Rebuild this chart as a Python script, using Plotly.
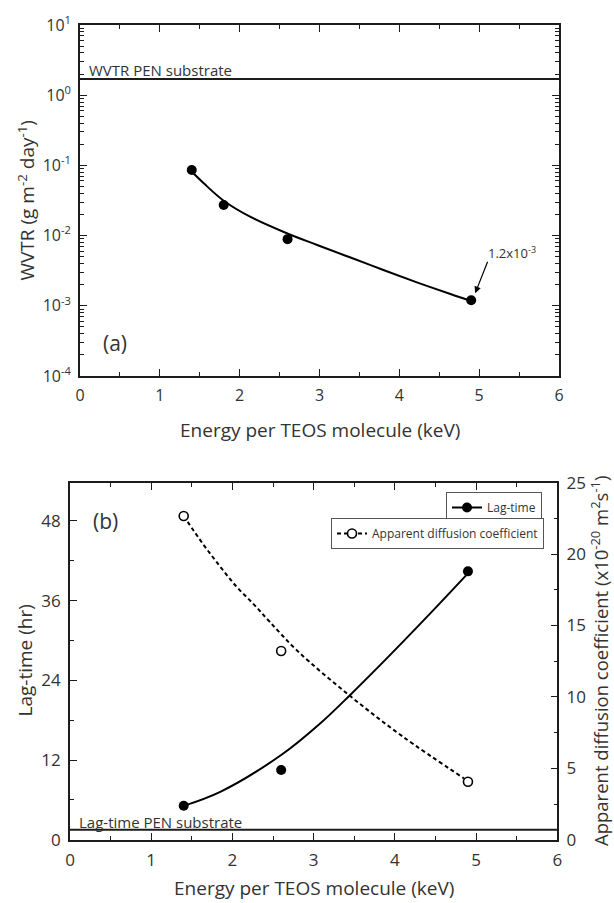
import math
import plotly.graph_objects as go

# ---- Panel (a): WVTR vs energy per TEOS molecule ----
energy_a = [1.4, 1.8, 2.6, 4.9]
wvtr = [0.086, 0.0273, 0.0089, 0.0012]
fit_energy_a = [1.42, 1.55, 1.8, 2.13, 2.59, 2.97, 3.38, 3.8, 4.22, 4.64, 4.89]
fit_wvtr = [0.0771, 0.0556, 0.0314, 0.0186, 0.0108, 0.00735, 0.00491,
            0.00324, 0.00216, 0.00147, 0.00118]
wvtr_pen = 1.7
x_span = [0, 6]
wvtr_label_value = 0.0012

# ---- Panel (b): lag-time and apparent diffusion coefficient ----
energy_b = [1.4, 2.6, 4.9]
lag_time = [5.1, 10.5, 40.4]
diff_coef = [22.67, 13.21, 4.06]
fit_energy_lag = [1.4, 1.85, 2.6, 3.08, 3.45, 3.9, 4.43, 4.9]
fit_lag = [5.1, 7.2, 12.75, 17.5, 21.8, 27.3, 34.0, 40.1]
fit_energy_diff = [1.4, 1.64, 1.85, 2.05, 2.26, 2.46, 2.81, 3.45, 4.1, 4.85]
fit_diff = [22.67, 20.69, 19.12, 17.72, 16.5, 15.25, 13.17, 10.06, 7.21, 4.3]
lag_pen = 1.5

decades = [1e-4, 1e-3, 1e-2, 1e-1, 1e0, 1e1]
decade_text = ["10<sup>-4</sup>", "10<sup>-3</sup>", "10<sup>-2</sup>",
               "10<sup>-1</sup>", "10<sup>0</sup>", "10<sup>1</sup>"]
lag_ticks = [0, 12, 24, 36, 48]
diff_ticks = [0, 5, 10, 15, 20, 25]

W, H = 614, 903
INK = "#1c1c1c"
TXT = "#333333"
FONT = "Open Sans"


def px_x(v):
    return v / W


def px_y(v):
    return 1 - v / H


fig = go.Figure()

# panel (a)
fig.add_trace(go.Scatter(x=x_span, y=[wvtr_pen, wvtr_pen], mode="lines",
                         line=dict(color=INK, width=2), showlegend=False,
                         xaxis="x", yaxis="y"))
fig.add_trace(go.Scatter(x=fit_energy_a, y=fit_wvtr, mode="lines",
                         line=dict(color="black", width=2, shape="spline"),
                         showlegend=False, xaxis="x", yaxis="y"))
fig.add_trace(go.Scatter(x=energy_a, y=wvtr, mode="markers",
                         marker=dict(color="black", size=10, symbol="circle"),
                         showlegend=False, xaxis="x", yaxis="y"))

# panel (b)
fig.add_trace(go.Scatter(x=x_span, y=[lag_pen, lag_pen], mode="lines",
                         line=dict(color=INK, width=2), showlegend=False,
                         xaxis="x2", yaxis="y2"))
fig.add_trace(go.Scatter(x=fit_energy_lag, y=fit_lag, mode="lines",
                         line=dict(color="black", width=2, shape="spline"),
                         showlegend=False, xaxis="x2", yaxis="y2"))
fig.add_trace(go.Scatter(x=energy_b, y=lag_time, mode="markers",
                         marker=dict(color="black", size=10, symbol="circle"),
                         showlegend=False, xaxis="x2", yaxis="y2"))
fig.add_trace(go.Scatter(x=fit_energy_diff, y=fit_diff, mode="lines",
                         line=dict(color="black", width=2, shape="spline",
                                   dash="4px,3px"),
                         showlegend=False, xaxis="x2", yaxis="y3"))
fig.add_trace(go.Scatter(x=energy_b, y=diff_coef, mode="markers",
                         marker=dict(color="white", size=9, symbol="circle",
                                     line=dict(color="black", width=1.6)),
                         showlegend=False, xaxis="x2", yaxis="y3"))

# legend entries
fig.add_trace(go.Scatter(x=[None], y=[None], mode="lines+markers",
                         name="Lag-time",
                         line=dict(color="black", width=2),
                         marker=dict(color="black", size=10),
                         xaxis="x2", yaxis="y2", legend="legend"))
fig.add_trace(go.Scatter(x=[None], y=[None], mode="lines+markers",
                         name="Apparent diffusion coefficient",
                         line=dict(color="black", width=2, dash="4px,3px"),
                         marker=dict(color="white", size=9,
                                     line=dict(color="black", width=1.6)),
                         xaxis="x2", yaxis="y3", legend="legend2"))

tick16 = dict(family=FONT, size=16, color=TXT)
tick17 = dict(family=FONT, size=17, color=TXT)
axis_common = dict(showline=True, linecolor=INK, linewidth=1.6,
                   ticks="inside", ticklen=7, tickwidth=1.3, tickcolor=INK,
                   showgrid=False, zeroline=False, automargin=False,
                   ticklabelstandoff=4)
minor_lin = dict(ticks="inside", ticklen=4, tickcolor=INK, tickwidth=1.2)

minor_log = []
for d in decades[:-1]:
    for k in range(2, 10):
        minor_log.append(d * k)

fig.update_layout(
    template="none",
    width=W, height=H,
    margin=dict(l=0, r=0, t=0, b=0, autoexpand=False),
    paper_bgcolor="white", plot_bgcolor="white",
    font=dict(family=FONT, color=TXT),
    xaxis=dict(domain=[px_x(80), px_x(559)], anchor="y", range=[0, 6],
               tickmode="linear", tick0=0, dtick=1, mirror="ticks",
               minor=dict(dtick=0.5, **minor_lin), tickfont=tick16,
               **axis_common),
    yaxis=dict(domain=[px_y(376), px_y(25)], anchor="x", type="log",
               range=[-4, 1], tickmode="array", tickvals=decades,
               ticktext=decade_text, mirror="ticks",
               minor=dict(tickmode="array", tickvals=minor_log, **minor_lin),
               tickfont=tick16, **axis_common),
    xaxis2=dict(domain=[px_x(70), px_x(557.3)], anchor="y2", range=[0, 6],
                tickmode="linear", tick0=0, dtick=1, mirror="ticks",
                minor=dict(dtick=0.5, **minor_lin), tickfont=tick17,
                **axis_common),
    yaxis2=dict(domain=[px_y(839.7), px_y(482.7)], anchor="x2",
                range=[0, 53.75], tickmode="array", tickvals=lag_ticks,
                minor=dict(dtick=6, tick0=0, **minor_lin), tickfont=tick17,
                **axis_common),
    yaxis3=dict(overlaying="y2", anchor="x2", side="right", range=[0, 25],
                tickmode="array", tickvals=diff_ticks,
                minor=dict(dtick=2.5, tick0=0, **minor_lin), tickfont=tick17,
                **axis_common),
    legend=dict(x=px_x(542), y=px_y(492), xanchor="right", yanchor="top",
                bordercolor="#555555", borderwidth=1, bgcolor="white",
                font=dict(family=FONT, size=12, color=TXT),
                itemwidth=30, tracegroupgap=0),
    legend2=dict(x=px_x(544), y=px_y(518), xanchor="right", yanchor="top",
                 bordercolor="#555555", borderwidth=1, bgcolor="white",
                 font=dict(family=FONT, size=12, color=TXT),
                 itemwidth=30, tracegroupgap=0),
)

title_font = dict(family=FONT, size=19, color=TXT)
annotations = [
    # axis titles
    dict(text="WVTR (g m<sup>-2</sup> day<sup>-1</sup>)", x=px_x(26),
         y=px_y(200.5), textangle=-90, font=title_font),
    dict(text="Energy per TEOS molecule (keV)", x=px_x(319.5), y=px_y(430),
         font=title_font),
    dict(text="Lag-time (hr)", x=px_x(24.5), y=px_y(661), textangle=-90,
         font=title_font),
    dict(text="Energy per TEOS molecule (keV)", x=px_x(313.6), y=px_y(888),
         font=title_font),
    dict(text="Apparent diffusion coefficient (x10<sup>-20</sup> m<sup>2</sup>s<sup>-1</sup>)",
         x=px_x(599), y=px_y(661), textangle=-90,
         font=dict(family=FONT, size=18.5, color=TXT)),
    # panel letters
    dict(text="(a)", x=px_x(114.7), y=px_y(343),
         font=dict(family=FONT, size=21, color=TXT)),
    dict(text="(b)", x=px_x(105), y=px_y(521),
         font=dict(family=FONT, size=21, color=TXT)),
    # substrate reference labels
    dict(text="WVTR PEN substrate", x=px_x(87), y=px_y(70), xanchor="left",
         font=dict(family=FONT, size=15, color=TXT)),
    dict(text="Lag-time PEN substrate", x=px_x(77), y=px_y(822),
         xanchor="left", font=dict(family=FONT, size=15, color=TXT)),
    # value label
    dict(text="1.2x10<sup>-3</sup>", x=px_x(512), y=px_y(252),
         font=dict(family=FONT, size=13, color=TXT)),
]
for a in annotations:
    a.setdefault("xref", "paper")
    a.setdefault("yref", "paper")
    a.setdefault("xanchor", "center")
    a.setdefault("yanchor", "middle")
    a.setdefault("showarrow", False)
    fig.add_annotation(**a)

# arrow pointing at the last WVTR point
fig.add_annotation(x=4.95, y=math.log10(wvtr_label_value) + 0.1,
                   xref="x", yref="y", text="", showarrow=True,
                   ax=13, ay=-33, arrowhead=2, arrowsize=1.1,
                   arrowwidth=1.2, arrowcolor="black")

fig.write_html("out.html")
